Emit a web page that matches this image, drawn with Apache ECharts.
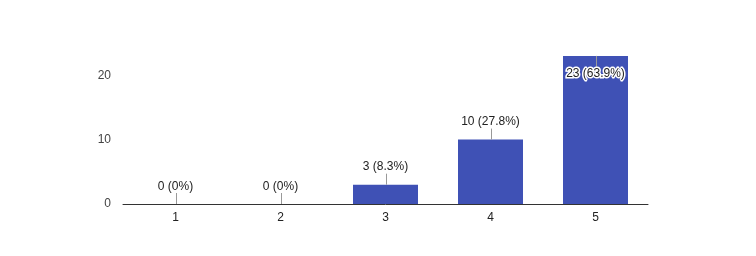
<!DOCTYPE html>
<html>
<head>
<meta charset="utf-8">
<script src="https://cdn.jsdelivr.net/npm/echarts@6/dist/echarts.min.js"></script>
<style>
html,body{margin:0;padding:0;background:#fff;}
#chart{width:756px;height:256px;}
</style>
</head>
<body>
<div id="chart"></div>
<script>
var categories = ['1', '2', '3', '4', '5'];
var counts = [0, 0, 3, 10, 23];
var percentLabels = ['0%', '0%', '8.3%', '27.8%', '63.9%'];
var yTicks = [0, 10, 20];

var chart = echarts.init(document.getElementById('chart'), null, {renderer: 'canvas'});
var labelData = counts.map(function (v, i) { return [i, v]; });

chart.setOption({
  animation: false,
  backgroundColor: '#ffffff',
  grid: {left: 123, right: 108, top: 43, bottom: 52},
  xAxis: {
    type: 'category',
    data: categories,
    axisLine: {show: true, lineStyle: {color: '#333', width: 1}},
    axisTick: {show: false},
    axisLabel: {color: '#222', fontFamily: 'Arial, Liberation Sans', fontSize: 12, margin: 8}
  },
  yAxis: {
    type: 'value',
    min: 0,
    max: 25,
    interval: 10,
    axisLine: {show: false},
    axisTick: {show: false},
    splitLine: {show: false},
    axisLabel: {
      color: '#444', fontFamily: 'Arial, Liberation Sans', fontSize: 12, margin: 12,
      padding: [3, 0, 0, 0],
      showMaxLabel: false,
      formatter: function (v) { return yTicks.indexOf(v) >= 0 ? String(v) : ''; }
    }
  },
  series: [
    {
      type: 'bar',
      data: counts,
      barWidth: 65,
      itemStyle: {color: '#3f51b5'},
      silent: true
    },
    {
      type: 'custom',
      data: labelData,
      z: 10,
      silent: true,
      renderItem: function (params, api) {
        var i = api.value(0), v = api.value(1);
        var p = api.coord([i, v]);
        var top = params.coordSys.y;
        var inside = p[1] - 24 < top;
        var dir = inside ? 1 : -1;
        var x = Math.round(p[0]) + 0.5;
        var txt = counts[params.dataIndex] + ' (' + percentLabels[params.dataIndex] + ')';
        return {
          type: 'group',
          children: [
            {type: 'line', shape: {x1: x, y1: p[1], x2: x, y2: p[1] + dir * 11},
             style: {stroke: '#999', lineWidth: 1}},
            {type: 'text', x: p[0], y: p[1] + dir * 17.5,
             style: {text: txt, fill: '#222', font: '12px Arial, "Liberation Sans"',
                     align: 'center', verticalAlign: 'middle',
                     textAlign: 'center', textVerticalAlign: 'middle',
                     stroke: inside ? '#fff' : null, lineWidth: inside ? 3 : 0}}
          ]
        };
      }
    }
  ]
});
</script>
</body>
</html>
